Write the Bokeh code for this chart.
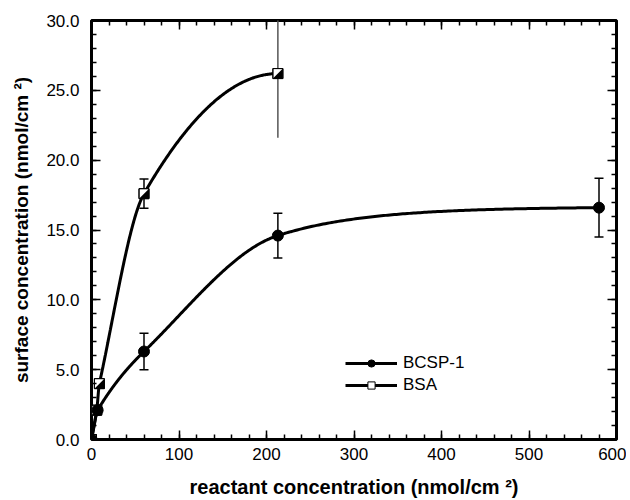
import numpy as np
from bokeh.plotting import figure
from bokeh.models import (Range1d, LinearAxis, SingleIntervalTicker, PrintfTickFormatter,
                          Whisker, ColumnDataSource, TeeHead, Legend, LegendItem,
                          CustomLabelingPolicy)
from bokeh.embed import file_html
from bokeh.resources import INLINE

# ---- data ----
bcsp_x = [0, 7, 60, 213, 580]
bcsp_y = [0.0, 2.1, 6.3, 14.6, 16.6]
bcsp_err = [0.0, 0.0, 1.3, 1.6, 2.1]

bsa_x = [0, 6, 9, 60, 213]
bsa_y = [0.0, 2.1, 4.0, 17.6, 26.2]
bsa_err = [0.0, 0.0, 0.0, 1.05, 4.6]

x_label = "reactant concentration (nmol/cm \u00b2)"
y_label = "surface concentration (nmol/cm \u00b2)"
series_names = ["BCSP-1", "BSA"]

X_MAX, Y_MAX = 600, 30
FW, FH = 525, 419
FONT = "Liberation Sans"


def smooth_curve(x, y, per_seg=150):
    """Hermite curve through the points; tangents are central differences,
    segments that would overshoot use a saturating exponential instead."""
    x = np.asarray(x, float)
    y = np.asarray(y, float)
    n = len(x)
    h = np.diff(x)
    s = np.diff(y) / h
    m = np.zeros(n)
    m[0] = s[0]
    for k in range(1, n - 1):
        m[k] = (y[k + 1] - y[k - 1]) / (x[k + 1] - x[k - 1])
    m[-1] = 0.0
    xs_all, ys_all = [], []
    for k in range(n - 1):
        t = np.linspace(0, 1, per_seg)
        xs = x[k] + t * h[k]
        dy = y[k + 1] - y[k]
        if s[k] != 0 and m[k] / s[k] > 3:
            kk = dy / m[k]
            ys = y[k] + dy * (1 - np.exp(-(xs - x[k]) / kk)) / (1 - np.exp(-h[k] / kk))
        else:
            m0, m1 = m[k], m[k + 1]
            if s[k] != 0:
                a, b = m0 / s[k], m1 / s[k]
                r = a * a + b * b
                if r > 9:
                    tau = 3 / np.sqrt(r)
                    m0, m1 = tau * a * s[k], tau * b * s[k]
            h00 = 2 * t**3 - 3 * t**2 + 1
            h10 = t**3 - 2 * t**2 + t
            h01 = -2 * t**3 + 3 * t**2
            h11 = t**3 - t**2
            ys = h00 * y[k] + h10 * h[k] * m0 + h01 * y[k + 1] + h11 * h[k] * m1
        xs_all.append(xs)
        ys_all.append(ys)
    return np.concatenate(xs_all), np.concatenate(ys_all)


p = figure(frame_width=FW, frame_height=FH, output_backend="svg", toolbar_location=None,
           x_range=Range1d(0, X_MAX), y_range=Range1d(0, Y_MAX),
           min_border_left=91, min_border_top=20, min_border_right=10, min_border_bottom=8,
           x_axis_label=x_label, y_axis_label=y_label)
p.background_fill_color = "white"
p.border_fill_color = "white"
p.grid.visible = False
p.outline_line_color = "black"
p.outline_line_width = 3


def style_axis(ax, show_labels=True):
    ax.axis_line_color = None
    ax.major_tick_in = 9
    ax.major_tick_out = 0
    ax.minor_tick_in = 5
    ax.minor_tick_out = 0
    ax.major_tick_line_width = 1.5
    ax.minor_tick_line_width = 1.5
    ax.major_tick_line_color = "black"
    ax.minor_tick_line_color = "black"
    ax.major_label_text_font = FONT
    ax.major_label_text_font_size = "17px" if show_labels else "0px"
    ax.major_label_text_color = "black"
    ax.axis_label_text_font = FONT
    ax.axis_label_text_font_style = "bold"
    ax.axis_label_text_color = "black"
    if not show_labels:
        ax.major_label_policy = CustomLabelingPolicy(
            code="for (const i of Array.from(indices)) { indices.unset(i) }\nreturn indices")


p.xaxis.ticker = SingleIntervalTicker(interval=100, num_minor_ticks=5)
p.yaxis.ticker = SingleIntervalTicker(interval=5, num_minor_ticks=5)
p.yaxis.formatter = PrintfTickFormatter(format="%.1f")
style_axis(p.xaxis[0])
style_axis(p.yaxis[0])
p.xaxis.axis_label_text_font_size = "20px"
p.yaxis.axis_label_text_font_size = "19px"
p.xaxis.major_label_standoff = 8
p.xaxis.axis_label_standoff = 13
p.yaxis.major_label_standoff = 12
p.yaxis.axis_label_standoff = 11

top = LinearAxis(ticker=SingleIntervalTicker(interval=100, num_minor_ticks=5))
right = LinearAxis(ticker=SingleIntervalTicker(interval=5, num_minor_ticks=5))
for ax in (top, right):
    style_axis(ax, show_labels=False)
    ax.major_label_standoff = 0
p.add_layout(top, "above")
p.add_layout(right, "right")

# ---- curves ----
bx, by = smooth_curve(bcsp_x, bcsp_y)
sx, sy = smooth_curve(bsa_x, bsa_y)
l_bsa = p.line(sx, sy, line_color="black", line_width=3)
l_bcsp = p.line(bx, by, line_color="black", line_width=3)

# ---- error bars ----
def err_source(xv, yv, ev, keep):
    idx = [i for i in range(len(xv)) if keep(i)]
    return ColumnDataSource(dict(x=[xv[i] for i in idx],
                                 lo=[yv[i] - ev[i] for i in idx],
                                 hi=[yv[i] + ev[i] for i in idx]))


def add_whisker(src, color, heads):
    w = Whisker(source=src, base="x", lower="lo", upper="hi", line_color=color, line_width=1.5,
                upper_head=TeeHead(size=9, line_width=1.5, line_color=color) if heads else None,
                lower_head=TeeHead(size=9, line_width=1.5, line_color=color) if heads else None)
    p.add_layout(w)


add_whisker(err_source(bcsp_x, bcsp_y, bcsp_err, lambda i: bcsp_err[i] > 0), "black", True)
add_whisker(err_source(bsa_x, bsa_y, bsa_err,
                       lambda i: bsa_err[i] > 0 and bsa_y[i] + bsa_err[i] <= Y_MAX), "black", True)
add_whisker(err_source(bsa_x, bsa_y, bsa_err,
                       lambda i: bsa_y[i] + bsa_err[i] > Y_MAX), "#555555", False)

# ---- markers ----
MS = 10
hw = (MS / 2) / (FW / X_MAX)
hh = (MS / 2) / (FH / Y_MAX)
sq = p.scatter(bsa_x, bsa_y, marker="square", size=MS, fill_color="white", line_color="black",
               line_width=1)
tri_xs = [[x + hw, x + hw, x - hw] for x in bsa_x]
tri_ys = [[y + hh, y - hh, y - hh] for y in bsa_y]
p.patches(tri_xs, tri_ys, fill_color="black", line_color=None)
p.scatter(bsa_x, bsa_y, marker="square", size=MS, fill_color=None, line_color="black", line_width=1)
ci = p.scatter(bcsp_x, bcsp_y, marker="circle", size=11, fill_color="black", line_color="black")

legend = Legend(items=[LegendItem(label=series_names[0], renderers=[l_bcsp, ci]),
                       LegendItem(label=series_names[1], renderers=[l_bsa, sq])],
                location=(254, 44))
legend.border_line_color = None
legend.background_fill_alpha = 0
legend.glyph_width = 52
legend.glyph_height = 18
legend.label_text_font = FONT
legend.label_text_font_size = "17px"
legend.label_text_color = "black"
legend.label_standoff = 6
legend.spacing = 2
legend.padding = 0
p.add_layout(legend)

open("out.html", "w").write(file_html(p, INLINE))
